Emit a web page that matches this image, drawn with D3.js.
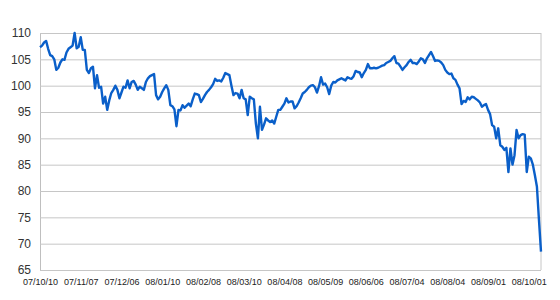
<!DOCTYPE html>
<html>
<head>
<meta charset="utf-8">
<script src="https://cdn.jsdelivr.net/npm/d3@7"></script>
<style>
  body { margin: 0; background: #fff; }
  text { font-family: "Liberation Sans", Arial, sans-serif; }
</style>
</head>
<body>
<div id="chart"></div>
<script>
// set dimensions of graph
var width = 560,
    height = 300

// plot box
var plotLeft = 40, plotRight = 541, plotTop = 33, plotBottom = 270

// daily values (07/10/10 .. 08/10/10)
var values = [
  107.3, 107.6, 108.2, 108.5, 107.0, 105.8, 105.6, 105.0, 103.0, 103.4,
  104.4, 105.0, 104.9, 106.3, 107.0, 107.3, 107.6, 110.0, 107.1, 107.4,
  109.2, 106.8, 106.8, 103.0, 102.4, 103.3, 103.6, 99.5, 102.0, 99.6,
  99.8, 96.6, 97.9, 95.4, 97.2, 98.6, 99.2, 100.0, 99.2, 97.6,
  98.7, 99.8, 99.6, 101.0, 99.5, 100.7, 100.9, 100.2, 99.2, 99.8,
  99.5, 99.2, 100.7, 101.4, 101.8, 102.0, 102.2, 98.2, 97.4, 97.9,
  98.8, 99.5, 100.1, 99.2, 96.3, 96.1, 95.5, 92.3, 95.4, 95.3,
  96.3, 95.8, 96.2, 96.6, 96.1, 97.4, 98.5, 98.4, 98.2, 96.9,
  97.5, 98.2, 98.8, 99.2, 99.7, 100.3, 101.3, 100.9, 101.0, 100.8,
  101.5, 102.4, 102.2, 102.0, 100.0, 98.2, 98.6, 98.5, 97.6, 99.2,
  97.6, 97.4, 94.4, 97.9, 97.6, 97.4, 92.8, 90.0, 96.0, 91.6,
  92.6, 93.8, 93.4, 93.1, 93.4, 92.8, 94.1, 95.4, 95.4, 96.0,
  96.6, 97.6, 96.8, 97.0, 97.0, 95.7, 96.1, 96.8, 97.6, 98.5,
  98.8, 99.2, 99.7, 100.0, 100.1, 99.7, 98.7, 99.9, 101.6, 100.2,
  100.4, 99.7, 98.4, 100.0, 100.7, 100.6, 101.0, 101.2, 101.4, 101.2,
  101.0, 101.6, 101.4, 101.3, 101.8, 102.8, 102.6, 102.5, 101.6, 102.4,
  103.0, 104.1, 103.3, 103.3, 103.4, 103.3, 103.4, 103.6, 103.8, 103.9,
  104.3, 104.5, 104.7, 105.2, 105.6, 104.3, 104.2, 103.6, 103.0, 103.5,
  103.9, 104.5, 104.9, 104.3, 104.3, 104.1, 104.6, 105.2, 105.0, 104.3,
  105.2, 105.8, 106.4, 105.6, 104.7, 104.8, 104.7, 104.4, 103.9, 103.0,
  102.5, 102.2, 102.3, 101.4, 101.1, 100.2, 99.5, 96.5, 97.1, 96.9,
  97.8, 97.4, 97.9, 97.8, 97.5, 97.2, 96.8, 96.0, 96.3, 96.5,
  95.4, 94.6, 92.5, 92.2, 90.0, 91.9, 88.7, 88.4, 87.8, 88.2,
  83.6, 88.1, 85.0, 86.8, 91.6, 90.0, 90.6, 90.8, 90.7, 83.6,
  86.5, 86.2, 85.0, 83.0, 80.8, 74.5, 68.5
]

// x tick labels, one every 20 points
var tickLabels = ["07/10/10", "07/11/07", "07/12/06", "08/01/10", "08/02/08", "08/03/10",
                  "08/04/08", "08/05/09", "08/06/06", "08/07/04", "08/08/04", "08/09/01", "08/10/01"]
var tickEvery = 20

var yTicks = [65, 70, 75, 80, 85, 90, 95, 100, 105, 110]

var svg = d3.select("#chart")
  .append("svg")
    .attr("width", width)
    .attr("height", height)

var x = d3.scaleLinear()
  .domain([0, values.length - 1])
  .range([plotLeft, plotRight])

var y = d3.scaleLinear()
  .domain([65, 110])
  .range([plotBottom, plotTop])

// horizontal grid + y labels
var yAxis = d3.axisLeft(y)
  .tickValues(yTicks)
  .tickSize(-(plotRight - plotLeft))
  .tickPadding(9)

svg.append("g")
  .attr("transform", "translate(" + plotLeft + ",0)")
  .call(yAxis)
  .call(function(g) {
    g.select(".domain").attr("stroke", "#bfbfbf")
    g.selectAll(".tick line").attr("stroke", "#c6c6c6")
    g.selectAll(".tick text")
      .attr("fill", "#333")
      .style("font-size", "12px")
  })

// right border
svg.append("line")
  .attr("x1", plotRight).attr("x2", plotRight)
  .attr("y1", plotTop).attr("y2", plotBottom)
  .attr("stroke", "#c6c6c6")

// x labels
var xAxis = d3.axisBottom(x)
  .tickValues(tickLabels.map(function(d, i) { return i * tickEvery }))
  .tickFormat(function(d, i) { return tickLabels[i] })
  .tickSize(0)
  .tickPadding(9)

svg.append("g")
  .attr("transform", "translate(0," + plotBottom + ")")
  .call(xAxis)
  .call(function(g) {
    g.select(".domain").remove()
    g.selectAll(".tick text")
      .attr("fill", "#222")
      .style("font-size", "9px")
  })

// the line
var line = d3.line()
  .x(function(d, i) { return x(i) })
  .y(function(d) { return y(d) })

svg.append("path")
  .datum(values)
  .attr("fill", "none")
  .attr("stroke", "#0a5fc9")
  .attr("stroke-width", 2.4)
  .attr("stroke-linejoin", "round")
  .attr("d", line)
</script>
</body>
</html>
